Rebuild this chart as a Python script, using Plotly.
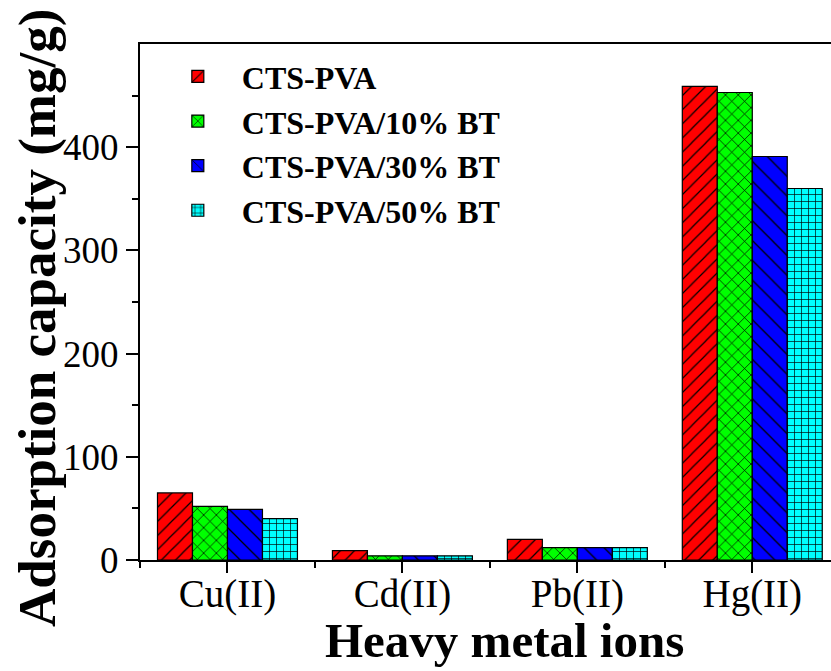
import plotly.graph_objects as go

categories = ["Cu(II)", "Cd(II)", "Pb(II)", "Hg(II)"]
series_names = ["CTS-PVA", "CTS-PVA/10% BT", "CTS-PVA/30% BT", "CTS-PVA/50% BT"]
cts_pva = [65, 9, 20, 459]
cts_pva_10 = [52, 4, 12, 453]
cts_pva_30 = [49, 4, 12, 391]
cts_pva_50 = [40, 4, 12, 360]
y_ticks = [0, 100, 200, 300, 400]

series_values = [cts_pva, cts_pva_10, cts_pva_30, cts_pva_50]
colors = ["#FF0000", "#00FF00", "#0000FF", "#00FFFF"]
shapes = ["/", "x", "\\", "+"]
sizes = [10, 9, 14, 7]
solid = [0.12, 0.15, 0.09, 0.18]

FONT = "Liberation Serif"
xpos = list(range(len(categories)))

fig = go.Figure()
for name, vals, c, sh, sz, so in zip(series_names, series_values, colors, shapes, sizes, solid):
    fig.add_trace(go.Bar(
        x=xpos, y=vals, name=name,
        marker=dict(color=c, line=dict(color="#000000", width=1.2),
                    pattern=dict(shape=sh, bgcolor=c, fgcolor="#000000",
                                 size=sz, solidity=so, fillmode="replace")),
    ))

fig.update_layout(
    width=831, height=671,
    margin=dict(l=140, r=0, t=44, b=111),
    paper_bgcolor="white", plot_bgcolor="white",
    barmode="group", bargap=0.2, bargroupgap=0,
    font=dict(family=FONT, color="black"),
    showlegend=True,
    legend=dict(x=0.02, y=0.99, xanchor="left", yanchor="top",
                font=dict(family=FONT, size=32, color="black", weight="bold"),
                bgcolor="rgba(0,0,0,0)", itemwidth=78, tracegroupgap=0),
    xaxis=dict(range=[-0.5, 3.45], tickvals=xpos, ticktext=categories,
               showline=True, linecolor="black", linewidth=2, mirror=True,
               ticks="outside", ticklen=11, tickwidth=2, tickcolor="black",
               ticklabelstandoff=-13,
               minor=dict(tickvals=[-0.5, 0.5, 1.5, 2.5], ticks="outside",
                          ticklen=6, tickwidth=2, tickcolor="black"),
               tickfont=dict(family=FONT, size=39, color="black"),
               showgrid=False, zeroline=False, fixedrange=True),
    yaxis=dict(range=[0, 500], tickvals=y_ticks,
               showline=True, linecolor="black", linewidth=2, mirror=False,
               ticks="outside", ticklen=12, tickwidth=2, tickcolor="black",
               minor=dict(tickvals=[50, 150, 250, 350, 450], ticks="outside",
                          ticklen=6, tickwidth=2, tickcolor="black"),
               tickfont=dict(family=FONT, size=37, color="black"),
               showgrid=False, zeroline=False),
    annotations=[
        dict(text="Heavy metal ions", xref="paper", yref="paper",
             x=(504 - 140) / 691, y=(560 - 640) / 516,
             xanchor="center", yanchor="middle", showarrow=False,
             font=dict(family=FONT, size=49, color="black", weight="bold")),
        dict(text="Adsorption capacity (mg/g)", xref="paper", yref="paper",
             x=(37 - 140) / 691, y=(560 - 318) / 516, textangle=-90,
             xanchor="center", yanchor="middle", showarrow=False,
             font=dict(family=FONT, size=53, color="black", weight="bold")),
    ],
)

fig.write_html("out.html", config={"displayModeBar": False},
               post_script="document.body.style.margin='0';")
